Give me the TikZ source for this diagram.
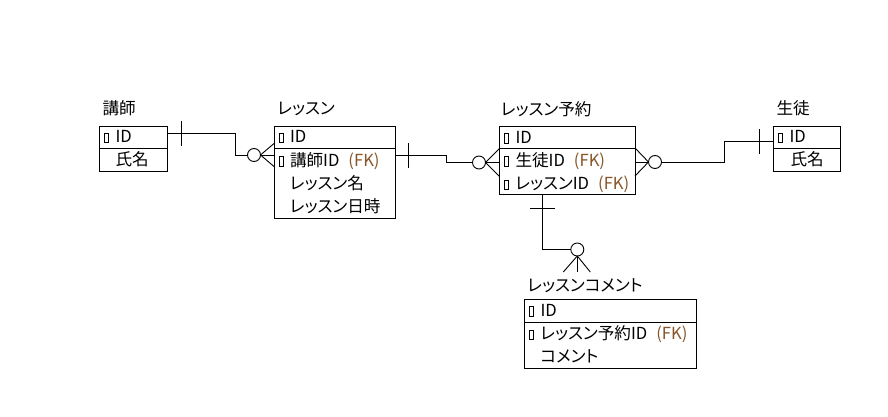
\documentclass[tikz,border=0pt]{standalone}
\usepackage{fontspec}
\setmainfont{Noto Sans CJK JP}[RawFeature=+palt]
\usetikzlibrary{calc}
\definecolor{fkbrown}{RGB}{135,85,40}
\newcommand{\fkmark}{\hspace{9pt}\textcolor{fkbrown}{(FK)}}
\begin{document}
\begin{tikzpicture}[x=1pt,y=-1pt,line width=0.9pt,
  every node/.style={inner sep=0pt,outer sep=0pt},
  txt/.style={anchor=base west,font=\fontsize{16.6}{20}\selectfont},
  ebox/.style={draw,anchor=north west},
  mk/.style={draw,line width=0.7pt,minimum width=4.2pt,minimum height=9.5pt,anchor=south west},
  circ/.style={draw,circle,minimum size=13pt,fill=white},
  divline/.style={line width=0.9pt}]
\fill[white] (0,0) rectangle (888,417);
\useasboundingbox (0,0) rectangle (888,417);

% ---------- 講師 ----------
\node[txt] (kT) at (102.5,115) {講師};
\node[ebox,minimum width=67.5pt,minimum height=45pt] (kB) at (99.5,126) {};
\draw[divline] ($(kB.north west)+(0,22.3)$) -- ($(kB.north east)+(0,22.3)$);
\node[mk] (kM1) at (104.5,142.7) {};
\node[txt] (kR1) at (115.5,142.7) {ID};
\node[txt] (kR2) at (115.5,165.5) {氏名};

% ---------- レッスン ----------
\node[txt] (lT) at (277.5,115) {レッスン};
\node[ebox,minimum width=121pt,minimum height=92pt] (lB) at (274,126) {};
\draw[divline] ($(lB.north west)+(0,22.3)$) -- ($(lB.north east)+(0,22.3)$);
\node[mk] (lM1) at (279,142.7) {};
\node[txt] (lR1) at (290,142.7) {ID};
\node[mk] (lM2) at (279,166) {};
\node[txt] (lR2) at (290,166) {講師ID\fkmark};
\node[txt] (lR3) at (290,189.2) {レッスン名};
\node[txt] (lR4) at (290,212.4) {レッスン日時};

% ---------- レッスン予約 ----------
\node[txt] (yT) at (501,115.5) {レッスン予約};
\node[ebox,minimum width=135.5pt,minimum height=68pt] (yB) at (499.5,126) {};
\draw[divline] ($(yB.north west)+(0,22.3)$) -- ($(yB.north east)+(0,22.3)$);
\node[mk] (yM1) at (504.5,143) {};
\node[txt] (yR1) at (515.5,143) {ID};
\node[mk] (yM2) at (504.5,166.2) {};
\node[txt] (yR2) at (515.5,166.2) {生徒ID\fkmark};
\node[mk] (yM3) at (504.5,189.4) {};
\node[txt] (yR3) at (515.5,189.4) {レッスンID\fkmark};

% ---------- 生徒 ----------
\node[txt] (sT) at (776.5,115) {生徒};
\node[ebox,minimum width=66.5pt,minimum height=45pt] (sB) at (773.5,126) {};
\draw[divline] ($(sB.north west)+(0,22.3)$) -- ($(sB.north east)+(0,22.3)$);
\node[mk] (sM1) at (778.5,142.7) {};
\node[txt] (sR1) at (789.5,142.7) {ID};
\node[txt] (sR2) at (790.5,165.5) {氏名};

% ---------- レッスンコメント ----------
\node[txt] (cT) at (527.5,291.5) {レッスンコメント};
\node[ebox,minimum width=171.5pt,minimum height=69pt] (cB) at (524.5,299.5) {};
\draw[divline] ($(cB.north west)+(0,23)$) -- ($(cB.north east)+(0,23)$);
\node[mk] (cM1) at (529.5,316.2) {};
\node[txt] (cR1) at (540.5,316.2) {ID};
\node[mk] (cM2) at (529.5,339.4) {};
\node[txt] (cR2) at (540.5,339.4) {レッスン予約ID\fkmark};
\node[txt] (cR3) at (540.5,362.6) {コメント};

% ---------- circles ----------
\node[circ] (c1) at (254,155) {};
\node[circ] (c2) at (479,162.5) {};
\node[circ] (c3) at (655,162) {};
\node[circ] (c4) at (577.3,249.5) {};

% ---------- 講師 -> レッスン ----------
\coordinate (b1) at (235.7,155);
\draw ($(kB.north east)+(0,7.3)$) -| (b1) -- (c1.west);
\draw ($(kB.north east)+(14.5,-5)$) -- ++(0,25);
\draw (c1.east) -- ($(lB.west|-c1)+(0,-11.5)$);
\draw (c1.east) -- (lB.west|-c1);
\draw (c1.east) -- ($(lB.west|-c1)+(0,11.5)$);

% ---------- レッスン -> レッスン予約 ----------
\coordinate (b2) at (446.7,162.5);
\draw ($(lB.north east)+(0,29.7)$) -| (b2) -- (c2.west);
\draw ($(lB.north east)+(13.3,17)$) -- ++(0,25);
\draw (c2.east) -- ($(yB.west|-c2)+(0,-14)$);
\draw (c2.east) -- (yB.west|-c2);
\draw (c2.east) -- ($(yB.west|-c2)+(0,14)$);

% ---------- 生徒 -> レッスン予約 ----------
\coordinate (b3) at (724,141.7);
\draw (c3.east) -| (b3) -- ($(sB.north west)+(0,15.7)$);
\draw ($(sB.north west)+(-14.2,3)$) -- ++(0,25);
\draw (c3.west) -- ($(yB.east|-c3)+(0,-14)$);
\draw (c3.west) -- (yB.east|-c3);
\draw (c3.west) -- ($(yB.east|-c3)+(0,14)$);

% ---------- レッスン予約 -> レッスンコメント ----------
\draw ($(yB.south west)+(42.8,0)$) |- (c4.west);
\draw ($(yB.south west)+(30.5,14.3)$) -- ++(25,0);
\coordinate (f4l) at ($(c4.south)+(-14,16)$);
\coordinate (f4m) at ($(c4.south)+(0,16)$);
\coordinate (f4r) at ($(c4.south)+(13,16)$);
\draw (c4.south) -- (f4l);
\draw (c4.south) -- (f4m);
\draw (c4.south) -- (f4r);
\end{tikzpicture}
\end{document}
